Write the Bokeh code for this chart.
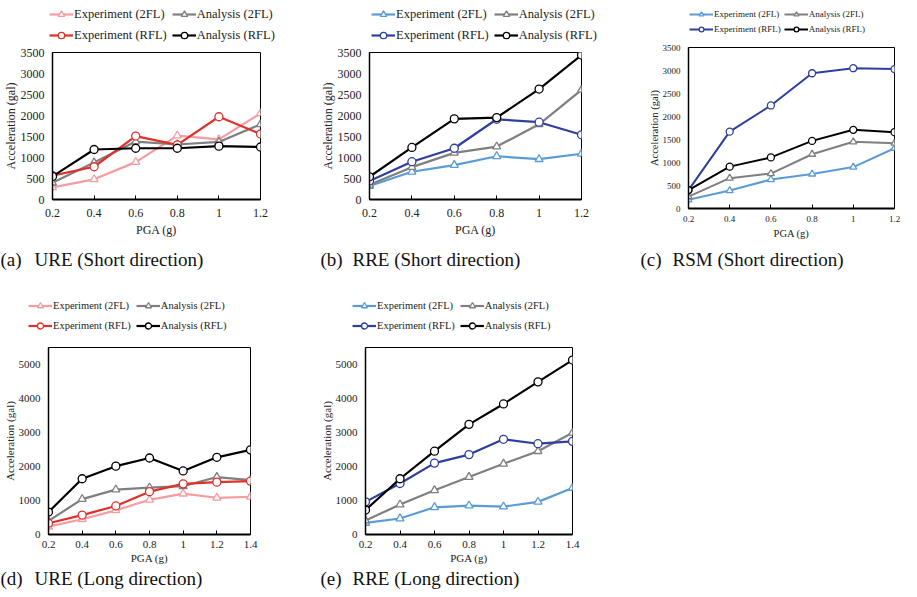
from bokeh.plotting import figure
from bokeh.models import Legend, LegendItem, Label, Range1d, FixedTicker
from bokeh.layouts import column, row
from bokeh.embed import file_html
from bokeh.resources import INLINE

# ---------------- data ----------------
pga_short = [0.2, 0.4, 0.6, 0.8, 1.0, 1.2]
pga_long = [0.2, 0.4, 0.6, 0.8, 1.0, 1.2, 1.4]

# (a) URE short direction
ure_s_exp_2fl = [290, 480, 890, 1520, 1430, 2050]
ure_s_ana_2fl = [400, 880, 1380, 1310, 1370, 1790]
ure_s_exp_rfl = [570, 780, 1510, 1300, 1970, 1560]
ure_s_ana_rfl = [550, 1190, 1220, 1220, 1270, 1250]

# (b) RRE short direction
rre_s_exp_2fl = [320, 660, 820, 1030, 960, 1090]
rre_s_ana_2fl = [350, 770, 1110, 1260, 1790, 2610]
rre_s_exp_rfl = [440, 900, 1220, 1910, 1840, 1540]
rre_s_ana_rfl = [540, 1240, 1920, 1950, 2630, 3440]

# (c) RSM short direction
rsm_s_exp_2fl = [190, 390, 630, 750, 900, 1310]
rsm_s_ana_2fl = [260, 660, 760, 1180, 1450, 1420]
rsm_s_exp_rfl = [400, 1670, 2240, 2940, 3050, 3030]
rsm_s_ana_rfl = [400, 910, 1110, 1470, 1710, 1660]

# (d) URE long direction
ure_l_exp_2fl = [230, 450, 710, 1020, 1200, 1080, 1110]
ure_l_ana_2fl = [400, 1040, 1320, 1380, 1420, 1690, 1600]
ure_l_exp_rfl = [330, 570, 840, 1260, 1490, 1540, 1570]
ure_l_ana_rfl = [660, 1640, 2010, 2250, 1870, 2270, 2490]

# (e) RRE long direction
rre_l_exp_2fl = [340, 470, 800, 850, 820, 960, 1370]
rre_l_ana_2fl = [410, 880, 1300, 1690, 2080, 2450, 2990]
rre_l_exp_rfl = [960, 1500, 2100, 2350, 2800, 2670, 2740]
rre_l_ana_rfl = [720, 1640, 2450, 3240, 3840, 4490, 5130]

legend_labels = ["Experiment (2FL)", "Analysis (2FL)", "Experiment (RFL)", "Analysis (RFL)"]
y_ticks_short = [0, 500, 1000, 1500, 2000, 2500, 3000, 3500]
y_ticks_long = [0, 1000, 2000, 3000, 4000, 5000]

captions_row1 = [("(a)", "URE (Short direction)"), ("(b)", "RRE (Short direction)"),
                 ("(c)", "RSM (Short direction)")]
captions_row2 = [("(d)", "URE (Long direction)"), ("(e)", "RRE (Long direction)")]

# ---------------- style ----------------
FONT = "Liberation Serif"
PINK = "#F59CA0"
RED = "#E0302A"
GRAY = "#7F7F7F"
BLACK = "#000000"
LBLUE = "#5B9BD5"
DBLUE = "#2E3F9E"
TXT = "#222222"
MARKERS = ["triangle", "triangle", "circle", "circle"]


def no_align(p):
    if "frame_align" in p.properties():
        p.frame_align = False


def blank_fig(width, height, xr=(0, 1), yr=(0, 1)):
    p = figure(width=width, height=height, output_backend="svg", toolbar_location=None,
               x_axis_type=None, y_axis_type=None, min_border=0,
               x_range=Range1d(*xr), y_range=Range1d(*yr))
    p.title.visible = False
    p.outline_line_color = None
    p.grid.visible = False
    p.background_fill_color = "white"
    p.border_fill_color = "white"
    no_align(p)
    return p


def legend_fig(width, height, x, series, colors, fs, loc, row_h, spacing, lw=2.2, msize=8):
    # the series are drawn out of view: only the legend swatches show
    p = blank_fig(width, height, xr=(-20, -19), yr=(-20, -19))
    items = []
    for ys, col, mk, lab in zip(series, colors, MARKERS, legend_labels):
        r1 = p.line(x, ys, line_color=col, line_width=lw)
        r2 = p.scatter(x, ys, marker=mk, size=msize, fill_color="white",
                       line_color=col, line_width=1.3)
        items.append(LegendItem(label=lab, renderers=[r1, r2]))
    leg = Legend(items=items, location=loc, orientation="horizontal", ncols=2,
                 label_text_font=FONT, label_text_font_size=fs, label_text_color=TXT,
                 glyph_width=24, glyph_height=row_h, label_height=row_h,
                 label_standoff=1, spacing=spacing, padding=0, margin=0,
                 border_line_color=None, background_fill_alpha=0)
    p.add_layout(leg, "center")
    return p


def caption_fig(width, height, caps, positions, y):
    p = blank_fig(width, height)
    for (t1, t2), (x1, x2) in zip(caps, positions):
        for txt, cx in ((t1, x1), (t2, x2)):
            p.add_layout(Label(x=cx, y=y, x_units="screen", y_units="screen",
                               text=txt, text_font=FONT, text_font_size="19px",
                               text_baseline="middle", text_color="#111111"))
    return p


def main_fig(x, series, colors, width, height, borders, ymax, yticks,
             tick_fs, label_fs, xtick_standoff=9, xlabel_standoff=3, lw=2.2, msize=8):
    bl, br, bt, bb = borders
    p = figure(width=width, height=height, output_backend="svg",
               toolbar_location=None,
               x_range=Range1d(x[0], x[-1]), y_range=Range1d(0, ymax),
               min_border_left=bl, min_border_right=br,
               min_border_top=bt, min_border_bottom=bb)
    no_align(p)
    p.title.visible = False
    p.xgrid.visible = False
    p.ygrid.visible = False
    p.outline_line_color = "black"
    p.outline_line_width = 1
    p.background_fill_color = "white"
    p.border_fill_color = "white"

    xa = p.xaxis[0]
    xa.ticker = FixedTicker(ticks=x)
    xa.major_label_overrides = {v: ("1" if abs(v - 1.0) < 1e-9 else f"{v:g}") for v in x}
    xa.axis_line_width = 2
    xa.axis_line_color = "black"
    xa.major_tick_in = 4
    xa.major_tick_out = 0
    xa.major_tick_line_width = 1
    xa.minor_tick_line_color = None
    xa.major_label_text_font = FONT
    xa.major_label_text_font_size = tick_fs
    xa.major_label_text_color = TXT
    xa.major_label_standoff = xtick_standoff
    xa.axis_label = "PGA (g)"
    xa.axis_label_text_font = FONT
    xa.axis_label_text_font_style = "normal"
    xa.axis_label_text_font_size = label_fs
    xa.axis_label_text_color = TXT
    xa.axis_label_standoff = xlabel_standoff

    ya = p.yaxis[0]
    ya.ticker = FixedTicker(ticks=yticks)
    ya.axis_line_width = 1.5
    ya.axis_line_color = "black"
    ya.major_tick_in = 0
    ya.major_tick_out = 0
    ya.minor_tick_line_color = None
    ya.major_label_text_font = FONT
    ya.major_label_text_font_size = tick_fs
    ya.major_label_text_color = TXT
    ya.major_label_standoff = 8
    ya.axis_label = "Acceleration (gal)"
    ya.axis_label_text_font = FONT
    ya.axis_label_text_font_style = "normal"
    ya.axis_label_text_font_size = label_fs
    ya.axis_label_text_color = TXT
    ya.axis_label_standoff = 0

    for ys, col, mk in zip(series, colors, MARKERS):
        p.line(x, ys, line_color=col, line_width=lw)
        p.scatter(x, ys, marker=mk, size=msize, fill_color="white",
                  line_color=col, line_width=1.3)
    return p


URE_COLORS = [PINK, GRAY, RED, BLACK]
RRE_COLORS = [LBLUE, GRAY, DBLUE, BLACK]

s_a = [ure_s_exp_2fl, ure_s_ana_2fl, ure_s_exp_rfl, ure_s_ana_rfl]
s_b = [rre_s_exp_2fl, rre_s_ana_2fl, rre_s_exp_rfl, rre_s_ana_rfl]
s_c = [rsm_s_exp_2fl, rsm_s_ana_2fl, rsm_s_exp_rfl, rsm_s_ana_rfl]
s_d = [ure_l_exp_2fl, ure_l_ana_2fl, ure_l_exp_rfl, ure_l_ana_rfl]
s_e = [rre_l_exp_2fl, rre_l_ana_2fl, rre_l_exp_rfl, rre_l_ana_rfl]

la = legend_fig(314, 44, pga_short, s_a, URE_COLORS, "12.5px", (49, 1), 16, 5)
lb = legend_fig(318, 44, pga_short, s_b, RRE_COLORS, "12.5px", (57, 1), 16, 5)
lc = legend_fig(269, 44, pga_short, s_c, RRE_COLORS, "9px", (57, 9), 12, 3, lw=2, msize=7)

ma = main_fig(pga_short, s_a, URE_COLORS, 314, 204, (47, 54, 8, 49), 3500, y_ticks_short,
              "12px", "12px")
mb = main_fig(pga_short, s_b, RRE_COLORS, 318, 204, (55, 51, 8, 49), 3500, y_ticks_short,
              "12px", "12px")
mc = main_fig(pga_short, s_c, RRE_COLORS, 269, 204, (56, 7, 3, 40), 3500, y_ticks_short,
              "9px", "10.5px", xtick_standoff=7, lw=2, msize=7)

cap1 = caption_fig(901, 24, captions_row1, [(0, 34), (320, 352), (640, 672)], 13)

ld = legend_fig(314, 64, pga_long, s_d, URE_COLORS, "10.5px", (28, 3), 15, 5)
le = legend_fig(318, 64, pga_long, s_e, RRE_COLORS, "10.5px", (38, 3), 15, 5)

md = main_fig(pga_long, s_d, URE_COLORS, 314, 230, (42, 64, 11, 32), 5500, y_ticks_long,
              "11px", "11px", xtick_standoff=6, xlabel_standoff=1)
me = main_fig(pga_long, s_e, RRE_COLORS, 318, 230, (51, 60, 11, 32), 5500, y_ticks_long,
              "11px", "11px", xtick_standoff=6, xlabel_standoff=1)

cap2 = caption_fig(901, 23, captions_row2, [(0, 34), (320, 352)], 11.5)

layout = column(
    row(column(row(la, lb), row(ma, mb)), column(lc, mc)),
    cap1,
    row(ld, le),
    row(md, me),
    cap2,
)
open("out.html", "w").write(file_html(layout, INLINE))
